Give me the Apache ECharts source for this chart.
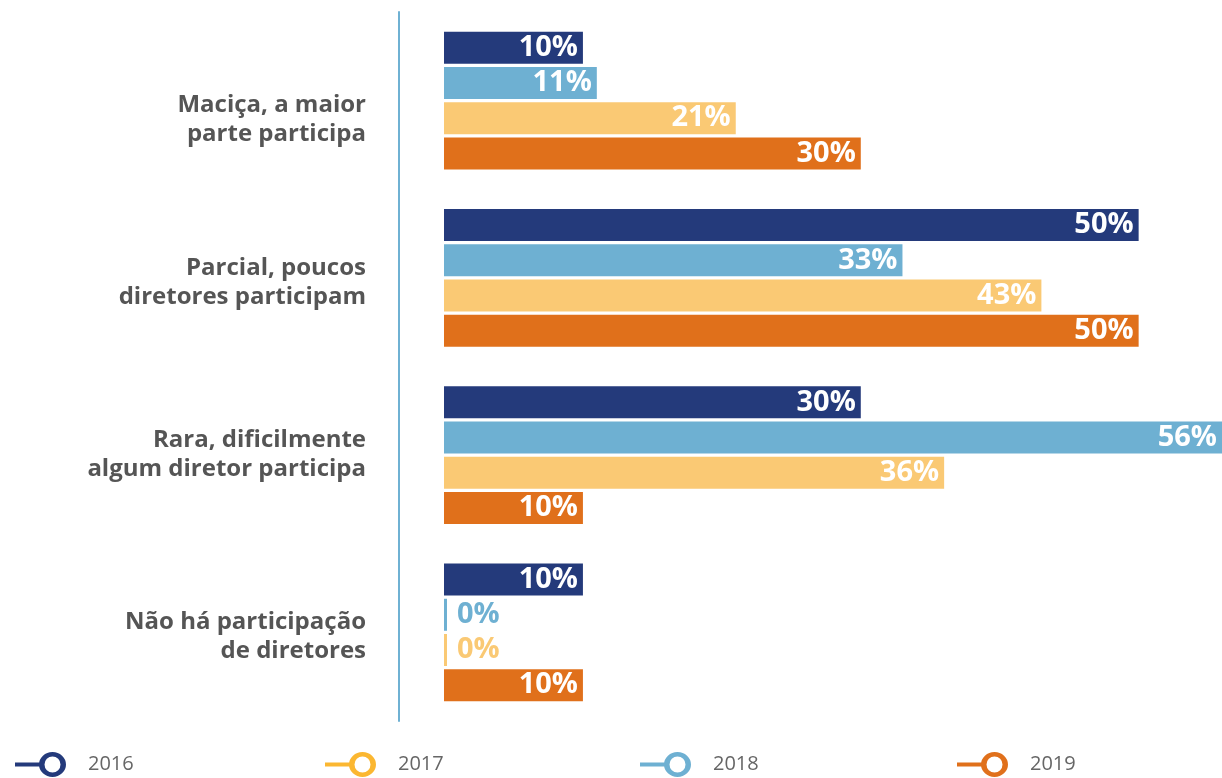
<!DOCTYPE html>
<html>
<head>
<meta charset="utf-8">
<script src="https://cdn.jsdelivr.net/npm/echarts@6/dist/echarts.min.js"></script>
<style>
  html, body { margin: 0; padding: 0; background: #fff; }
  #chart { width: 1222px; height: 778px; }
</style>
</head>
<body>
<div id="chart"></div>
<script>
var categories = [
    'Maciça, a maior\nparte participa',
    'Parcial, poucos\ndiretores participam',
    'Rara, dificilmente\nalgum diretor participa',
    'Não há participação\nde diretores'
];
var years = ['2016', '2017', '2018', '2019'];
var values2016 = [10, 50, 30, 10];
var values2017 = [21, 43, 36, 0];
var values2018 = [11, 33, 56, 0];
var values2019 = [30, 50, 10, 10];

var barColors = { '2016': '#243a7b', '2017': '#fac974', '2018': '#6eb0d2', '2019': '#e0701b' };
var legendColors = { '2016': '#243a7b', '2017': '#fbb731', '2018': '#6eb0d2', '2019': '#e0701b' };

// category labels sit a bit lower than the bar group in the original
// (height of a blank leading line, half of it is the shift)
var labelPush = [38, 10, 0, 8];

// line + ring icon for the legend
var legendIcon = 'path://M0,10.5 L25,10.5 L25,14.5 L0,14.5 Z M37.5,0 A13.5,12.5 0 1,1 37.49,0 Z M37.5,4.5 A8,8 0 1,0 37.51,4.5 Z';

function makeSeries(name, values) {
    var col = barColors[name];
    return {
        name: name,
        type: 'bar',
        barWidth: 32,
        barGap: '10%',
        barMinHeight: 3,
        itemStyle: { color: col },
        label: {
            show: true,
            position: 'insideRight',
            distance: 5,
            formatter: '{c}%',
            color: '#fff',
            fontFamily: 'Open Sans',
            fontWeight: 'bold',
            fontSize: 29
        },
        data: values.map(function (v) {
            if (v === 0) {
                return { value: v, label: { position: 'right', distance: 10, color: col } };
            }
            return v;
        })
    };
}

var legendLefts = [15, 325, 640, 957];
var legends = years.map(function (y, i) {
    return {
        left: legendLefts[i],
        bottom: 1,
        padding: 0,
        icon: legendIcon,
        itemWidth: 51,
        itemHeight: 25,
        data: [{ name: y, itemStyle: { color: legendColors[y], borderWidth: 0 } }],
        textStyle: {
            fontFamily: 'Open Sans',
            fontSize: 20,
            color: '#666',
            padding: [8, 0, 0, 17]
        }
    };
});

var richPush = {};
labelPush.forEach(function (h, i) {
    if (h > 0) richPush['p' + i] = { lineHeight: h, fontSize: 1 };
});

var chart = echarts.init(document.getElementById('chart'));
var option = {
    animation: false,
    textStyle: { fontFamily: 'Open Sans' },
    legend: legends,
    grid: { left: 444, right: -2, top: 12, bottom: 57, containLabel: false },
    xAxis: {
        type: 'value',
        min: 0,
        max: 56,
        show: false
    },
    yAxis: {
        type: 'category',
        inverse: true,
        data: categories,
        offset: 45,
        axisLine: { show: true, onZero: false, lineStyle: { color: '#6fb1d3', width: 2 } },
        axisTick: { show: false },
        axisLabel: {
            margin: 33,
            fontFamily: 'Open Sans',
            fontSize: 24,
            fontWeight: 'bold',
            color: '#555',
            lineHeight: 29,
            formatter: function (value, index) {
                if (labelPush[index] > 0) {
                    return '{p' + index + '| }\n' + value;
                }
                return value;
            },
            rich: richPush
        }
    },
    series: [
        makeSeries('2016', values2016),
        makeSeries('2018', values2018),
        makeSeries('2017', values2017),
        makeSeries('2019', values2019)
    ]
};
chart.setOption(option);
</script>
</body>
</html>
